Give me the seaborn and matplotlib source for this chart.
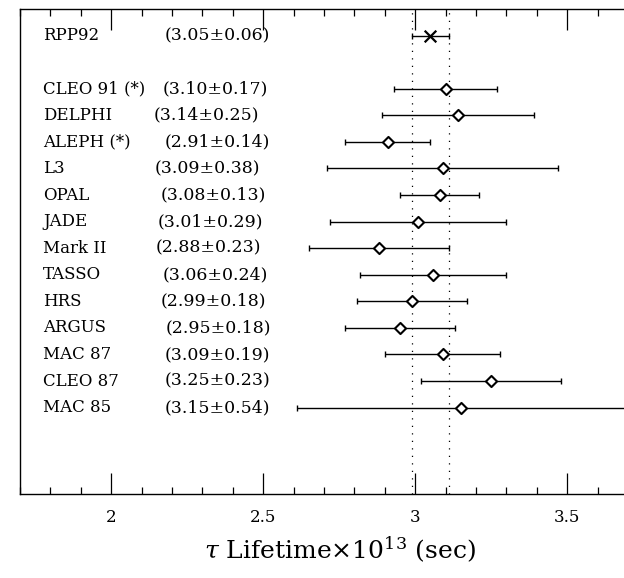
import numpy as np
import pandas as pd
import seaborn as sns
import matplotlib
matplotlib.use('Agg')
import matplotlib.pyplot as plt
from matplotlib.ticker import MultipleLocator, FuncFormatter

experiments = ['RPP92', 'CLEO 91 (*)', 'DELPHI', 'ALEPH (*)', 'L3', 'OPAL', 'JADE',
               'Mark II', 'TASSO', 'HRS', 'ARGUS', 'MAC 87', 'CLEO 87', 'MAC 85']
lifetime = [3.05, 3.10, 3.14, 2.91, 3.09, 3.08, 3.01, 2.88, 3.06, 2.99, 2.95, 3.09, 3.25, 3.15]
error = [0.06, 0.17, 0.25, 0.14, 0.38, 0.13, 0.29, 0.23, 0.24, 0.18, 0.18, 0.19, 0.23, 0.54]
row = [0, 2, 3, 4, 5, 6, 7, 8, 9, 10, 11, 12, 13, 14]

df = pd.DataFrame({'exp': experiments, 'tau': lifetime, 'err': error, 'row': row})

# x start (in pixels) of the "(value±err)" text
val_px = [165, 163, 154, 165, 155, 161, 158, 156, 163, 161, 166, 165, 165, 165]

sns.set_style('ticks')
plt.rcParams['font.family'] = ['DejaVu Serif']
plt.rcParams['mathtext.fontset'] = 'dejavuserif'
plt.rcParams['text.color'] = 'black'
plt.rcParams['axes.labelcolor'] = 'black'
plt.rcParams['xtick.color'] = 'black'

fig = plt.figure(figsize=(6.24, 5.78), dpi=100)
ax = fig.add_axes([20/624, 84/578, 610/624, 485/578])
x0, ppu = 1.70, 304.0
ax.set_xlim(x0, x0 + 610/ppu)
ax.set_ylim(17.25, -1.0)

# band of the average
avg, aerr = lifetime[0], error[0]
for xv in (avg - aerr, avg + aerr):
    ax.axvline(xv, color='black', lw=0.9, ls=(0, (1, 5)))

ax.errorbar(df['tau'], df['row'], xerr=df['err'], fmt='none', ecolor='black',
            elinewidth=1.0, capsize=2.5, capthick=1.0)
sns.scatterplot(data=df.iloc[1:], x='tau', y='row', marker='D', s=32,
                facecolor='white', edgecolor='black', linewidth=1.5,
                legend=False, ax=ax, zorder=5)
sns.scatterplot(data=df.iloc[:1], x='tau', y='row', marker='x', s=70,
                color='black', linewidth=1.6, legend=False, ax=ax, zorder=5)

for i in range(len(experiments)):
    ax.text(1.776, row[i], experiments[i], fontsize=12, va='center', ha='left')
    ax.text(x0 + (val_px[i] - 20)/ppu, row[i], '(%.2f±%.2f)' % (lifetime[i], error[i]),
            fontsize=12.5, va='center', ha='left')

ax.xaxis.set_major_locator(MultipleLocator(0.5))
ax.xaxis.set_minor_locator(MultipleLocator(0.1))
ax.xaxis.set_major_formatter(FuncFormatter(lambda v, p: '%g' % v))
ax.tick_params(axis='x', which='major', direction='in', length=15, width=0.9,
               top=True, bottom=True, labelsize=12, pad=11)
ax.tick_params(axis='x', which='minor', direction='in', length=5, width=0.9,
               top=True, bottom=True)
ax.set_yticks([])
for sp in ax.spines.values():
    sp.set_linewidth(1.0)
    sp.set_color('black')

ax.set_xlabel(r'$\tau$ Lifetime$\times$10$^{13}$ (sec)', fontsize=18)
ax.xaxis.set_label_coords(0.525, -0.085)
ax.set_ylabel('')

fig.savefig('out.png', dpi=100)
